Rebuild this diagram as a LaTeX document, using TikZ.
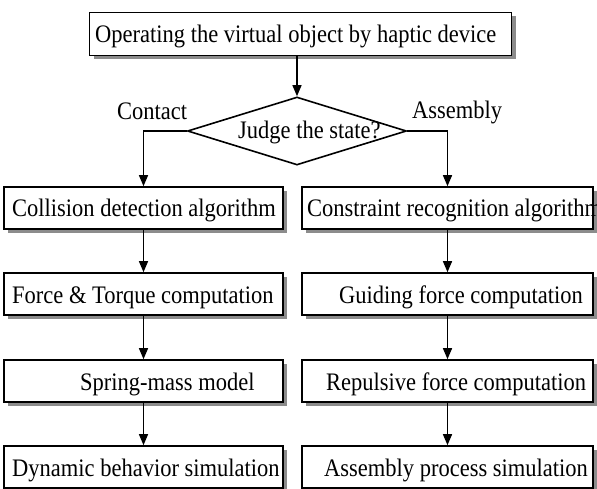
\documentclass[tikz,border=0pt]{standalone}
\usepackage{fontspec}
\setmainfont{Liberation Serif}
\usetikzlibrary{shapes.geometric,shadows,arrows.meta}
\newcommand\stretchtext[1]{\scalebox{1}[1.12]{#1}}
\begin{document}
\begin{tikzpicture}[x=1pt,y=-1pt,
  box/.style={draw=black, line width=1.6pt, fill=white, rectangle, inner sep=0pt, minimum height=42pt,
    drop shadow={shadow xshift=4pt, shadow yshift=-4pt, fill=black!45, opacity=1}},
  lbl/.style={anchor=base west, inner sep=0pt, font=\fontsize{22.5}{27}\selectfont},
  arr/.style={draw=black, line width=1.4pt, -{Triangle[length=11pt,width=9pt]}},
  decide/.style={diamond, draw=black, line width=1.6pt, minimum width=219pt, minimum height=68pt, inner sep=0pt},
]
\useasboundingbox (0,0) rectangle (597,489);

% top box
\node[box, minimum width=422pt, minimum height=43pt] (top) at (300.5,34) {};
\node[lbl] (ttop) at (95,43) {\stretchtext{Operating the virtual object by haptic device}};

% decision
\node[decide] (d) at (297,131) {};
\node[lbl] (td) at (238,139) {\stretchtext{Judge the state?}};
\node[lbl] (tc) at (117,120) {\stretchtext{Contact}};
\node[lbl] (ta) at (412,119) {\stretchtext{Assembly}};

% left column
\node[box, minimum width=279pt] (l1) at (143.5,208) {};
\node[box, minimum width=279pt] (l2) at (143.5,294) {};
\node[box, minimum width=279pt] (l3) at (143.5,381) {};
\node[box, minimum width=279pt] (l4) at (143.5,467) {};
\node[lbl] (tl1) at (12,217) {\stretchtext{Collision detection algorithm}};
\node[lbl] (tl2) at (12,303) {\stretchtext{Force \& Torque computation}};
\node[lbl] (tl3) at (80,390) {\stretchtext{Spring-mass model}};
\node[lbl] (tl4) at (12,476) {\stretchtext{Dynamic behavior simulation}};

% right column
\node[box, minimum width=291pt] (r1) at (447.5,208) {};
\node[box, minimum width=291pt] (r2) at (447.5,294) {};
\node[box, minimum width=291pt] (r3) at (447.5,381) {};
\node[box, minimum width=291pt] (r4) at (447.5,467) {};
\node[lbl] (tr1) at (307,217) {\stretchtext{Constraint recognition algorithm}};
\node[lbl] (tr2) at (339,303) {\stretchtext{Guiding force computation}};
\node[lbl] (tr3) at (326,390) {\stretchtext{Repulsive force computation}};
\node[lbl] (tr4) at (324,476) {\stretchtext{Assembly process simulation}};

% connectors
\draw[arr] (d.north |- top.south) -- (d.north);
\draw[arr] (d.west) -| (l1.north);
\draw[arr] (d.east) -| (r1.north);
\draw[arr] (l1) -- (l2);
\draw[arr] (l2) -- (l3);
\draw[arr] (l3) -- (l4);
\draw[arr] (r1) -- (r2);
\draw[arr] (r2) -- (r3);
\draw[arr] (r3) -- (r4);
\end{tikzpicture}
\end{document}
